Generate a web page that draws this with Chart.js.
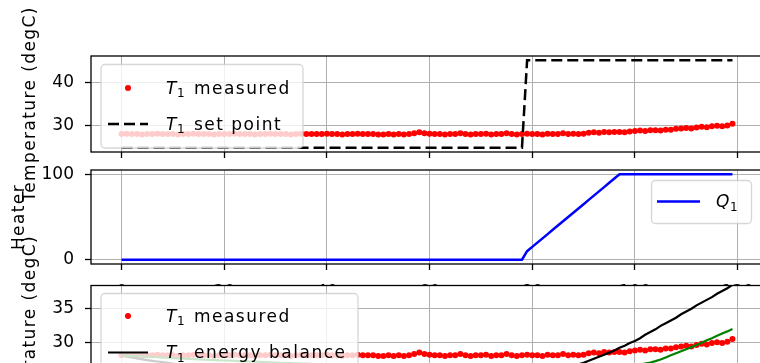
<!DOCTYPE html>
<html><head><meta charset="utf-8">
<script src="https://cdn.jsdelivr.net/npm/chart.js@4.4.1/dist/chart.umd.min.js"></script>
<style>
html,body{margin:0;padding:0;background:#fff;overflow:hidden;width:760px;height:363px;position:relative;}
canvas{position:absolute;left:0;top:0;}
</style></head><body>
<canvas id="c1" width="770" height="450"></canvas>
<canvas id="c2" width="770" height="450"></canvas>
<canvas id="c3" width="770" height="450"></canvas>
<script>
// ---------- data ----------
const time = [0,1,2,3,4,5,6,7,8,9,10,11,12,13,14,15,16,17,18,19,20,21,22,23,24,25,26,27,28,29,30,31,32,33,34,35,36,37,38,39,40,41,42,43,44,45,46,47,48,49,50,51,52,53,54,55,56,57,58,59,60,61,62,63,64,65,66,67,68,69,70,71,72,73,74,75,76,77,78,79,80,81,82,83,84,85,86,87,88,89,90,91,92,93,94,95,96,97,98,99,100,101,102,103,104,105,106,107,108,109,110,111,112,113,114,115,116,117,118,119];

const t1Measured = [
28.1,28.2,28.1,28.1,28.0,28.1,28.1,28.2,28.1,28.1,
28.1,28.0,28.1,28.1,28.2,28.1,28.1,28.1,28.0,28.1,
28.1,28.1,28.2,28.1,28.1,28.1,28.0,28.1,28.1,28.2,
28.1,28.1,28.1,28.0,28.1,28.2,28.1,28.1,28.1,28.1,
28.2,28.1,28.1,28.0,28.1,28.1,28.2,28.1,28.1,28.1,
28.0,28.0,28.1,28.0,28.1,28.0,28.1,28.3,28.5,28.3,
28.2,28.1,28.1,28.0,28.1,28.1,28.3,28.1,28.0,28.1,
28.1,28.2,28.0,28.1,28.1,28.3,28.1,28.0,28.1,28.2,
28.1,28.1,28.0,28.2,28.1,28.1,28.3,28.1,28.2,28.1,
28.2,28.4,28.5,28.4,28.6,28.5,28.6,28.6,28.5,28.7,
28.8,28.9,28.8,29.0,29.0,28.9,29.1,29.1,29.3,29.4,
29.5,29.4,29.6,29.8,29.7,29.9,30.0,29.9,30.1,30.5];

const t1SetPoint = [
25,25,25,25,25,25,25,25,25,25,25,25,25,25,25,25,25,25,25,25,
25,25,25,25,25,25,25,25,25,25,25,25,25,25,25,25,25,25,25,25,
25,25,25,25,25,25,25,25,25,25,25,25,25,25,25,25,25,25,25,25,
25,25,25,25,25,25,25,25,25,25,25,25,25,25,25,25,25,25,25,
45,45,45,45,45,45,45,45,45,45,45,45,45,45,45,45,45,45,45,45,45,
45,45,45,45,45,45,45,45,45,45,45,45,45,45,45,45,45,45,45,45];

const q1Heater = [
0,0,0,0,0,0,0,0,0,0,0,0,0,0,0,0,0,0,0,0,
0,0,0,0,0,0,0,0,0,0,0,0,0,0,0,0,0,0,0,0,
0,0,0,0,0,0,0,0,0,0,0,0,0,0,0,0,0,0,0,0,
0,0,0,0,0,0,0,0,0,0,0,0,0,0,0,0,0,0,0,
10,15,20,25,30,35,40,45,50,55,60,65,70,75,80,85,90,95,100,
100,100,100,100,100,100,100,100,100,100,100,100,100,100,100,100,100,100,100,100,100,100];

const t1EnergyBalance = [
28.1,27.95,27.8,27.65,27.5,27.4,27.3,27.2,27.1,27.0,
26.9,26.8,26.72,26.65,26.58,26.5,26.44,26.38,26.32,26.27,
26.22,26.17,26.13,26.09,26.05,26.01,25.97,25.94,25.91,25.88,
25.85,25.82,25.8,25.78,25.76,25.74,25.72,25.7,25.68,25.66,
25.64,25.62,25.61,25.6,25.58,25.57,25.56,25.55,25.54,25.53,
25.52,25.51,25.5,25.49,25.48,25.47,25.46,25.45,25.45,25.44,
25.43,25.42,25.42,25.41,25.4,25.4,25.39,25.39,25.38,25.38,
25.37,25.37,25.36,25.36,25.35,25.35,25.34,25.34,25.33,25.33,
25.4,25.5,25.6,25.75,25.9,26.05,26.2,26.4,26.6,26.8,
27.0,27.3,27.6,27.9,28.2,28.5,28.8,29.2,29.5,29.9,
30.2,30.6,31.1,31.5,31.9,32.4,32.8,33.2,33.6,34.1,
34.5,34.9,35.4,35.8,36.2,36.6,37.1,37.5,37.9,38.4];

const t1LinearModel = [
28.1,28.06,28.02,27.98,27.94,27.9,27.86,27.82,27.78,27.74,
27.7,27.66,27.62,27.58,27.54,27.5,27.47,27.44,27.41,27.38,
27.35,27.32,27.29,27.26,27.23,27.2,27.17,27.14,27.11,27.08,
27.05,27.02,26.99,26.96,26.93,26.9,26.88,26.86,26.84,26.82,
26.8,26.78,26.76,26.74,26.72,26.7,26.67,26.64,26.61,26.58,
26.55,26.53,26.51,26.49,26.47,26.45,26.43,26.41,26.39,26.37,
26.35,26.33,26.31,26.29,26.27,26.25,26.24,26.23,26.22,26.21,
26.2,26.18,26.16,26.14,26.12,26.1,26.09,26.08,26.07,26.06,
26.05,26.04,26.03,26.02,26.01,26.0,26.0,26.0,26.0,26.0,
26.0,26.0,26.01,26.02,26.03,26.05,26.1,26.2,26.3,26.45,
26.6,26.75,26.9,27.05,27.25,27.5,27.8,28.1,28.4,28.7,
29.0,29.3,29.6,29.95,30.3,30.6,30.95,31.3,31.6,31.95];

const xTickValues = [0,20,40,60,80,100,120];
const yTicksTop = [30,40];
const yTicksHeater = [0,100];
const yTicksBottom = [30,35];

const labelMeasured = 'T₁ measured';
const labelSetPoint = 'T₁ set point';
const labelHeater = 'Q₁';
const labelEnergy = 'T₁ energy balance';
const labelLinear = 'T₁ linear model';
const yLabelTemp = 'Temperature (degC)';
const yLabelHeater = 'Heater';

// ---------- helpers ----------
const FAM = "'DejaVu Sans', sans-serif";
Chart.defaults.font.family = FAM;
Chart.defaults.font.size = 17;
Chart.defaults.color = '#000';

const pts = arr => time.map((t, i) => ({x: t, y: arr[i]}));

const whiteArea = {
  id: 'whiteArea',
  beforeDraw(chart) {
    const {ctx, chartArea: a} = chart;
    ctx.save(); ctx.fillStyle = '#fff';
    ctx.fillRect(a.left, a.top, a.right - a.left, a.bottom - a.top);
    ctx.restore();
  }
};
const frame = {
  id: 'frame',
  afterDatasetsDraw(chart) {
    const {ctx, chartArea: a} = chart;
    ctx.save(); ctx.strokeStyle = '#000'; ctx.lineWidth = 1.3;
    ctx.strokeRect(a.left, a.top, a.right - a.left, a.bottom - a.top);
    ctx.restore();
  }
};
function drawMathLabel(ctx, label, x, y) {
  ctx.letterSpacing = '1.5px';
  const m = label.match(/^(\S)₁(.*)$/);
  if (m) {
    ctx.font = `italic 17px ${FAM}`; ctx.fillText(m[1], x, y); x += ctx.measureText(m[1]).width;
    ctx.font = `12px ${FAM}`; ctx.fillText('1', x - 1, y + 3.5); x += ctx.measureText('1').width;
    ctx.font = `17px ${FAM}`; ctx.fillText(m[2], x, y);
  } else {
    ctx.font = `17px ${FAM}`; ctx.fillText(label, x, y);
  }
}
const legendBox = {
  id: 'legendBox',
  afterDraw(chart, args, o) {
    if (!o || !o.box) return;
    const ctx = chart.ctx;
    const [bx, by, bw, bh] = o.box;
    ctx.save();
    ctx.beginPath();
    ctx.roundRect(bx, by, bw, bh, 4);
    ctx.fillStyle = 'rgba(255,255,255,0.8)'; ctx.fill();
    ctx.lineWidth = 1.3; ctx.strokeStyle = 'rgba(204,204,204,0.8)'; ctx.stroke();
    chart.data.datasets.forEach((ds, i) => {
      const ry = o.rows[i];
      if (ry === undefined) return;
      const [x1, x2] = o.handle;
      if (ds.showLine === false) {
        ctx.beginPath(); ctx.fillStyle = ds.pointBackgroundColor;
        ctx.arc((x1 + x2) / 2, ry, 3, 0, Math.PI * 2); ctx.fill();
      } else {
        ctx.beginPath(); ctx.strokeStyle = ds.borderColor; ctx.lineWidth = ds.borderWidth;
        ctx.setLineDash(ds.borderDash || []);
        ctx.moveTo(x1, ry); ctx.lineTo(x2, ry); ctx.stroke(); ctx.setLineDash([]);
      }
      ctx.fillStyle = '#000'; ctx.textBaseline = 'alphabetic'; ctx.textAlign = 'left';
      drawMathLabel(ctx, ds.label, o.textX, ry + 5.5);
    });
    ctx.restore();
  }
};
const yTitle = {
  id: 'yTitle',
  afterDraw(chart, args, o) {
    if (!o || !o.text) return;
    const {ctx, chartArea: a} = chart;
    ctx.save();
    ctx.translate(o.x, (a.top + a.bottom) / 2);
    ctx.rotate(-Math.PI / 2);
    ctx.font = `17px ${FAM}`; ctx.letterSpacing = '1.4px';
    ctx.textAlign = 'center'; ctx.textBaseline = 'middle'; ctx.fillStyle = '#000';
    ctx.fillText(o.text, 0, 0);
    ctx.restore();
  }
};

function axisX(pad) {
  return {
    type: 'linear', min: -5.95, max: 124.95,
    afterBuildTicks: s => { s.ticks = xTickValues.map(v => ({value: v})); },
    afterFit: s => { s.height = 40; },
    grid: {color: '#b0b0b0', lineWidth: 1, tickColor: '#000', tickWidth: 1.3, tickLength: 6},
    border: {display: false},
    ticks: {padding: pad, color: '#000', maxRotation: 0, autoSkip: false, font: {size: 17}}
  };
}
function axisY(min, max, tickVals) {
  return {
    type: 'linear', min, max,
    afterBuildTicks: s => { s.ticks = tickVals.map(v => ({value: v})); },
    afterFit: s => { s.width = 91; },
    grid: {color: '#b0b0b0', lineWidth: 1, tickColor: '#000', tickWidth: 1.3, tickLength: 6},
    border: {display: false},
    ticks: {padding: 11, color: '#000', font: {size: 17}}
  };
}
function baseOptions(pad, ymin, ymax, yt, legendOpts, ytitle, xpad) {
  return {
    responsive: false, animation: false, devicePixelRatio: 1, events: [],
    layout: {padding: pad},
    scales: {x: axisX(xpad), y: axisY(ymin, ymax, yt)},
    plugins: {legend: {display: false}, tooltip: {enabled: false},
              legendBox: legendOpts, yTitle: ytitle}
  };
}
const plugins = [whiteArea, frame, legendBox, yTitle];

// ---------- panel 1 ----------
new Chart(document.getElementById('c1'), {
  type: 'line',
  data: {datasets: [
    {label: labelMeasured, data: pts(t1Measured), showLine: false, pointRadius: 3, pointBorderWidth: 0,
     pointBackgroundColor: '#ff0000', borderColor: '#ff0000', order: 3},
    {label: labelSetPoint, data: pts(t1SetPoint), borderColor: '#000', borderWidth: 2.5, borderDash: [11, 5],
     pointRadius: 0, tension: 0, order: 1}
  ]},
  options: baseOptions({left: 0, right: 7, top: 56, bottom: 258}, 24, 46, yTicksTop,
    {box: [101, 64.5, 202, 83.5], rows: [88, 124], handle: [108, 148], textX: 166},
    {text: yLabelTemp, x: 31}, 10),
  plugins
});

// ---------- panel 2 ----------
new Chart(document.getElementById('c2'), {
  type: 'line',
  data: {datasets: [
    {label: labelHeater, data: pts(q1Heater), borderColor: '#0000ff', borderWidth: 2.5, pointRadius: 0, tension: 0}
  ]},
  options: baseOptions({left: 0, right: 7, top: 170, bottom: 146}, -5, 105, yTicksHeater,
    {box: [651.5, 180.5, 100, 43], rows: [201.5], handle: [657, 700], textX: 716},
    {text: yLabelHeater, x: 20}, 12),
  plugins
});

// ---------- panel 3 ----------
new Chart(document.getElementById('c3'), {
  type: 'line',
  data: {datasets: [
    {label: labelMeasured, data: pts(t1Measured), showLine: false, pointRadius: 3, pointBorderWidth: 0,
     pointBackgroundColor: '#ff0000', borderColor: '#ff0000', order: 3},
    {label: labelEnergy, data: pts(t1EnergyBalance), borderColor: '#000', borderWidth: 2.2,
     pointRadius: 0, tension: 0, order: 2},
    {label: labelLinear, data: pts(t1LinearModel), borderColor: '#008000', borderWidth: 2.2,
     pointRadius: 0, tension: 0, order: 1}
  ]},
  options: baseOptions({left: 0, right: 7, top: 285.5, bottom: 30}, 24.5, 38.3, yTicksBottom,
    {box: [101, 293.5, 257, 125], rows: [316, 352.5, 389], handle: [108, 148], textX: 166},
    {text: yLabelTemp, x: 31}, 12),
  plugins
});
</script>
</body></html>
